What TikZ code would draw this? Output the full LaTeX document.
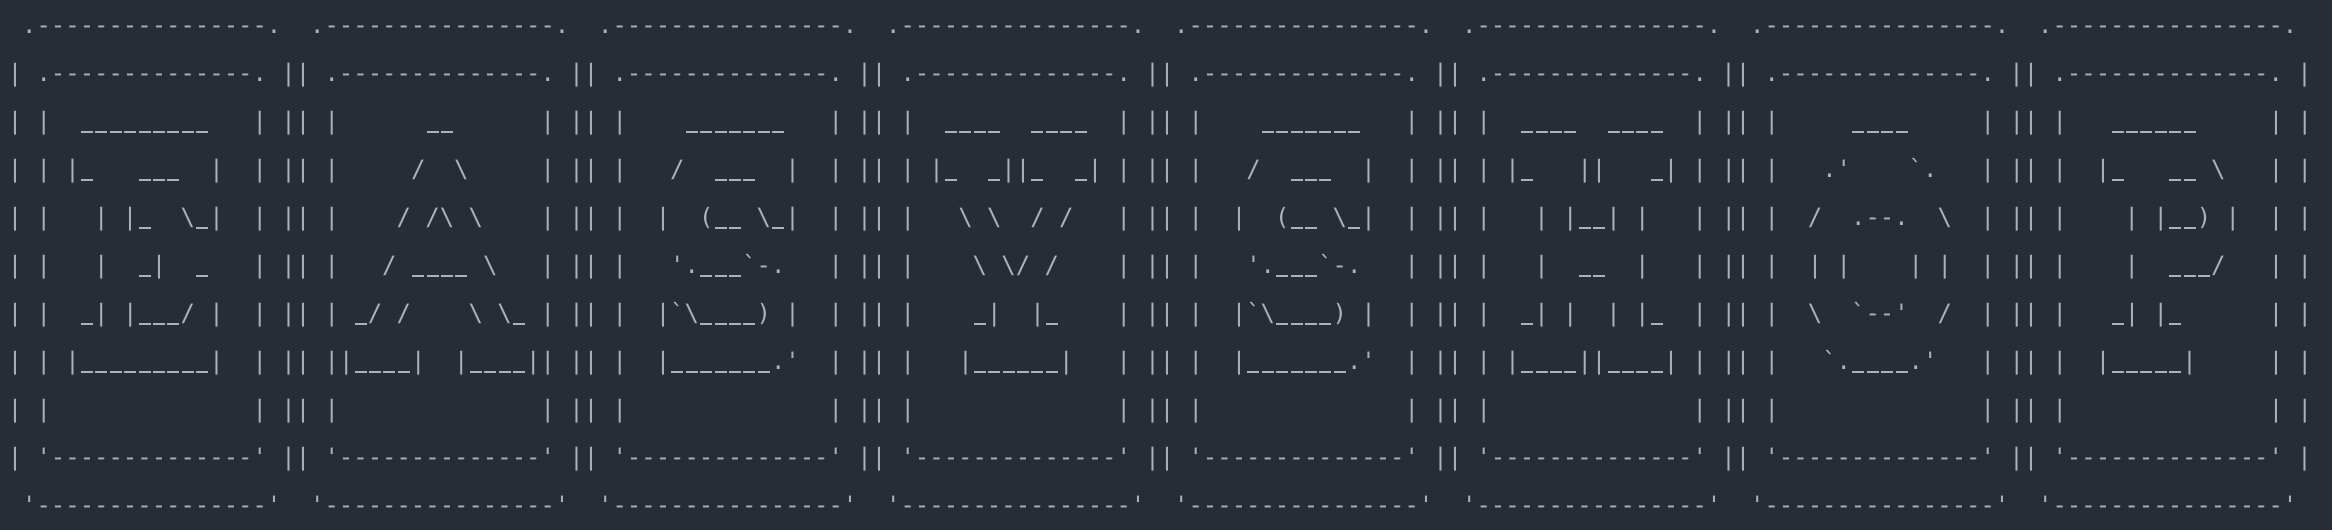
\documentclass[tikz,border=0pt]{standalone}
\usepackage{fontspec}
\setmonofont{DejaVu Sans Mono}
\definecolor{bgcol}{HTML}{282C34}
\definecolor{fgcol}{HTML}{ABB2BF}
\newcommand\asUs{\makebox[0.60205em]{\rule[-2.96pt]{9pt}{1.6pt}}}
\begingroup
\catcode`\!=0
\catcode`\_=13
\catcode`\ =13%
!catcode`!\=12%
!gdef {!hphantom{-}}%
!gdef_{!asUs}%
!gdef!asTop{ .----------------. }%
!gdef!asTwo{| .--------------. |}%
!gdef!asBlank{| |              | |}%
!gdef!asTen{| '--------------' |}%
!gdef!asBot{ '----------------' }%
!gdef!asLt#1{| |#1| |}%
!gdef!asEa{  _________   }%
!gdef!asEb{ |_   ___  |  }%
!gdef!asEc{   | |_  \_|  }%
!gdef!asEd{   |  _|  _   }%
!gdef!asEe{  _| |___/ |  }%
!gdef!asEf{ |_________|  }%
!gdef!asAa{      __      }%
!gdef!asAb{     /  \     }%
!gdef!asAc{    / /\ \    }%
!gdef!asAd{   / ____ \   }%
!gdef!asAe{ _/ /    \ \_ }%
!gdef!asAf{|____|  |____|}%
!gdef!asSa{    _______   }%
!gdef!asSb{   /  ___  |  }%
!gdef!asSc{  |  (__ \_|  }%
!gdef!asSd{   '.___`-.   }%
!gdef!asSe{  |`\____) |  }%
!gdef!asSf{  |_______.'  }%
!gdef!asYa{  ____  ____  }%
!gdef!asYb{ |_  _||_  _| }%
!gdef!asYc{   \ \  / /   }%
!gdef!asYd{    \ \/ /    }%
!gdef!asYe{    _|  |_    }%
!gdef!asYf{   |______|   }%
!gdef!asHa{  ____  ____  }%
!gdef!asHb{ |_   ||   _| }%
!gdef!asHc{   | |__| |   }%
!gdef!asHd{   |  __  |   }%
!gdef!asHe{  _| |  | |_  }%
!gdef!asHf{ |____||____| }%
!gdef!asOa{     ____     }%
!gdef!asOb{   .'    `.   }%
!gdef!asOc{  /  .--.  \  }%
!gdef!asOd{  | |    | |  }%
!gdef!asOe{  \  `--'  /  }%
!gdef!asOf{   `.____.'   }%
!gdef!asPa{   ______     }%
!gdef!asPb{  |_   __ \   }%
!gdef!asPc{    | |__) |  }%
!gdef!asPd{    |  ___/   }%
!gdef!asPe{   _| |_      }%
!gdef!asPf{  |_____|     }%
!endgroup
\newcommand\asRowA{\asTop\asTop\asTop\asTop\asTop\asTop\asTop\asTop}
\newcommand\asRowB{\asTwo\asTwo\asTwo\asTwo\asTwo\asTwo\asTwo\asTwo}
\newcommand\asRowC{\asLt\asEa\asLt\asAa\asLt\asSa\asLt\asYa\asLt\asSa\asLt\asHa\asLt\asOa\asLt\asPa}
\newcommand\asRowD{\asLt\asEb\asLt\asAb\asLt\asSb\asLt\asYb\asLt\asSb\asLt\asHb\asLt\asOb\asLt\asPb}
\newcommand\asRowE{\asLt\asEc\asLt\asAc\asLt\asSc\asLt\asYc\asLt\asSc\asLt\asHc\asLt\asOc\asLt\asPc}
\newcommand\asRowF{\asLt\asEd\asLt\asAd\asLt\asSd\asLt\asYd\asLt\asSd\asLt\asHd\asLt\asOd\asLt\asPd}
\newcommand\asRowG{\asLt\asEe\asLt\asAe\asLt\asSe\asLt\asYe\asLt\asSe\asLt\asHe\asLt\asOe\asLt\asPe}
\newcommand\asRowH{\asLt\asEf\asLt\asAf\asLt\asSf\asLt\asYf\asLt\asSf\asLt\asHf\asLt\asOf\asLt\asPf}
\newcommand\asRowI{\asBlank\asBlank\asBlank\asBlank\asBlank\asBlank\asBlank\asBlank}
\newcommand\asRowJ{\asTen\asTen\asTen\asTen\asTen\asTen\asTen\asTen}
\newcommand\asRowK{\asBot\asBot\asBot\asBot\asBot\asBot\asBot\asBot}
\begin{document}
\begin{tikzpicture}[x=1pt,y=1pt,
  artline/.style={anchor=base west, inner sep=0pt, outer sep=0pt, text=fgcol,
    font=\ttfamily\fontsize{17.94}{36}\selectfont}]
\fill[bgcol] (0,0) rectangle (1749,397.5);
\useasboundingbox (0,0) rectangle (1749,397.5);
\node[artline] (r1)  at (5.85,372.4) {\asRowA};
\node[artline] (r2)  at (5.85,336.4) {\asRowB};
\node[artline] (r3)  at (5.85,300.4) {\asRowC};
\node[artline] (r4)  at (5.85,264.4) {\asRowD};
\node[artline] (r5)  at (5.85,228.4) {\asRowE};
\node[artline] (r6)  at (5.85,192.4) {\asRowF};
\node[artline] (r7)  at (5.85,156.4) {\asRowG};
\node[artline] (r8)  at (5.85,120.4) {\asRowH};
\node[artline] (r9)  at (5.85,84.4)  {\asRowI};
\node[artline] (r10) at (5.85,48.4)  {\asRowJ};
\node[artline] (r11) at (5.85,12.4)  {\asRowK};
\end{tikzpicture}
\end{document}
